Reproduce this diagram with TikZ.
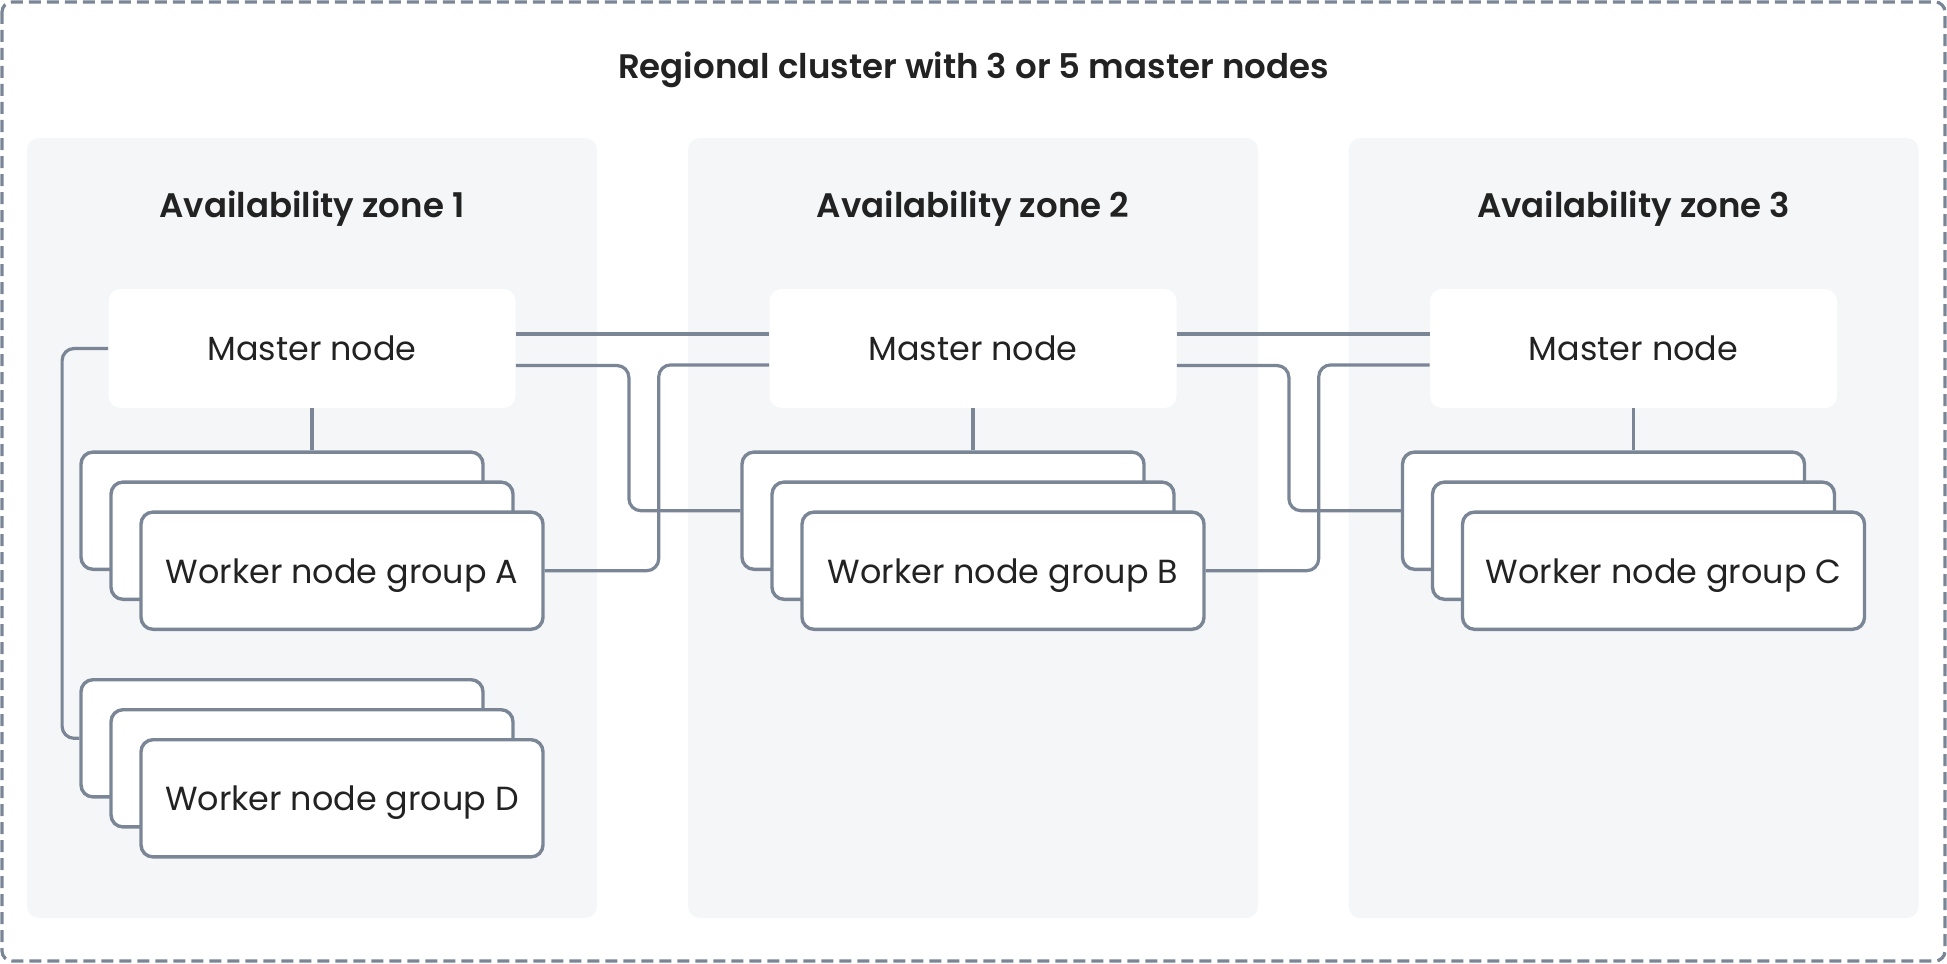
\documentclass[tikz,border=0pt]{standalone}
\usepackage{fontspec}
\setmainfont{Poppins}[BoldFont={Poppins SemiBold}]
\usetikzlibrary{positioning}
\definecolor{edgegray}{HTML}{7A8696}
\definecolor{zonefill}{HTML}{F5F6F8}
\definecolor{inktext}{HTML}{222222}

\begin{document}
\begin{tikzpicture}[x=0.5pt, y=-0.5pt, font=\fontsize{16.7}{19}\selectfont, text=inktext]
\tikzstyle{zone}=[fill=zonefill, rounded corners=6pt, minimum width=285pt, minimum height=390pt, inner sep=0pt]
\tikzstyle{master}=[fill=white, rounded corners=6pt, minimum width=203.5pt, minimum height=59.5pt, inner sep=0pt]
\tikzstyle{card}=[draw=edgegray, line width=1.7pt, fill=white, rounded corners=6pt, minimum width=201pt, minimum height=58.6pt, inner sep=0pt, text depth=0pt]
\tikzstyle{link}=[draw=edgegray, line width=1.6pt, rounded corners=6pt]
\tikzstyle{heading}=[font=\fontsize{17}{20}\selectfont\bfseries]
\useasboundingbox (0,0) rectangle (1947,963);
% outer cluster frame
\draw[edgegray, line width=1.6pt, dash pattern=on 6pt off 3pt, rounded corners=5pt] (2,2) rectangle (1945,961);
\node[heading] (title) at (973.5,70) {Regional cluster with 3 or 5 master nodes};
% zones
\node[zone] (zone1) at (312,528) {};
\node[zone] (zone2) at (973,528) {};
\node[zone] (zone3) at (1633.5,528) {};
\node[heading] (ztitle1) at (312,209) {Availability zone 1};
\node[heading] (ztitle2) at (973,209) {Availability zone 2};
\node[heading] (ztitle3) at (1633.5,209) {Availability zone 3};
% master nodes
\node[master] (m1) at (312,348.5) {Master node};
\node[master] (m2) at (973,348.5) {Master node};
\node[master] (m3) at (1633.5,348.5) {Master node};
% worker node groups
\node[card, below=21pt of m1, xshift=-15pt] (a1) {};
\node[card] (a2) at ([shift={(30,30)}]a1.center) {};
\node[card] (a3) at ([shift={(30,30)}]a2.center) {Worker node group A};
\node[card, below=21pt of m2, xshift=-15pt] (b1) {};
\node[card] (b2) at ([shift={(30,30)}]b1.center) {};
\node[card] (b3) at ([shift={(30,30)}]b2.center) {Worker node group B};
\node[card, below=21pt of m3, xshift=-15pt] (c1) {};
\node[card] (c2) at ([shift={(30,30)}]c1.center) {};
\node[card] (c3) at ([shift={(30,30)}]c2.center) {Worker node group C};
\node[card, below=53.5pt of a1] (d1) {};
\node[card] (d2) at ([shift={(30,30)}]d1.center) {};
\node[card] (d3) at ([shift={(30,30)}]d2.center) {Worker node group D};
% links
\draw[link] (m1.south) -- (m1.south |- a1.north);
\draw[link] (m2.south) -- (m2.south |- b1.north);
\draw[link] (m3.south) -- (m3.south |- c1.north);
\draw[link] (m1.west) -- ++(-46,0) |- (d1.west);
\draw[link] ([yshift=7.3pt]m1.east) -- ([yshift=7.3pt]m2.west);
\draw[link] ([yshift=7.3pt]m2.east) -- ([yshift=7.3pt]m3.west);
\draw[link] ([yshift=-8.5pt]m1.east) -- ++(113,0) |- (b1.west);
\draw[link] (a3.east) -- ++(114,0) |- ([yshift=-8.2pt]m2.west);
\draw[link] ([yshift=-8.5pt]m2.east) -- ++(112,0) |- (c1.west);
\draw[link] (b3.east) -- ++(113,0) |- ([yshift=-8.2pt]m3.west);
\end{tikzpicture}
\end{document}
